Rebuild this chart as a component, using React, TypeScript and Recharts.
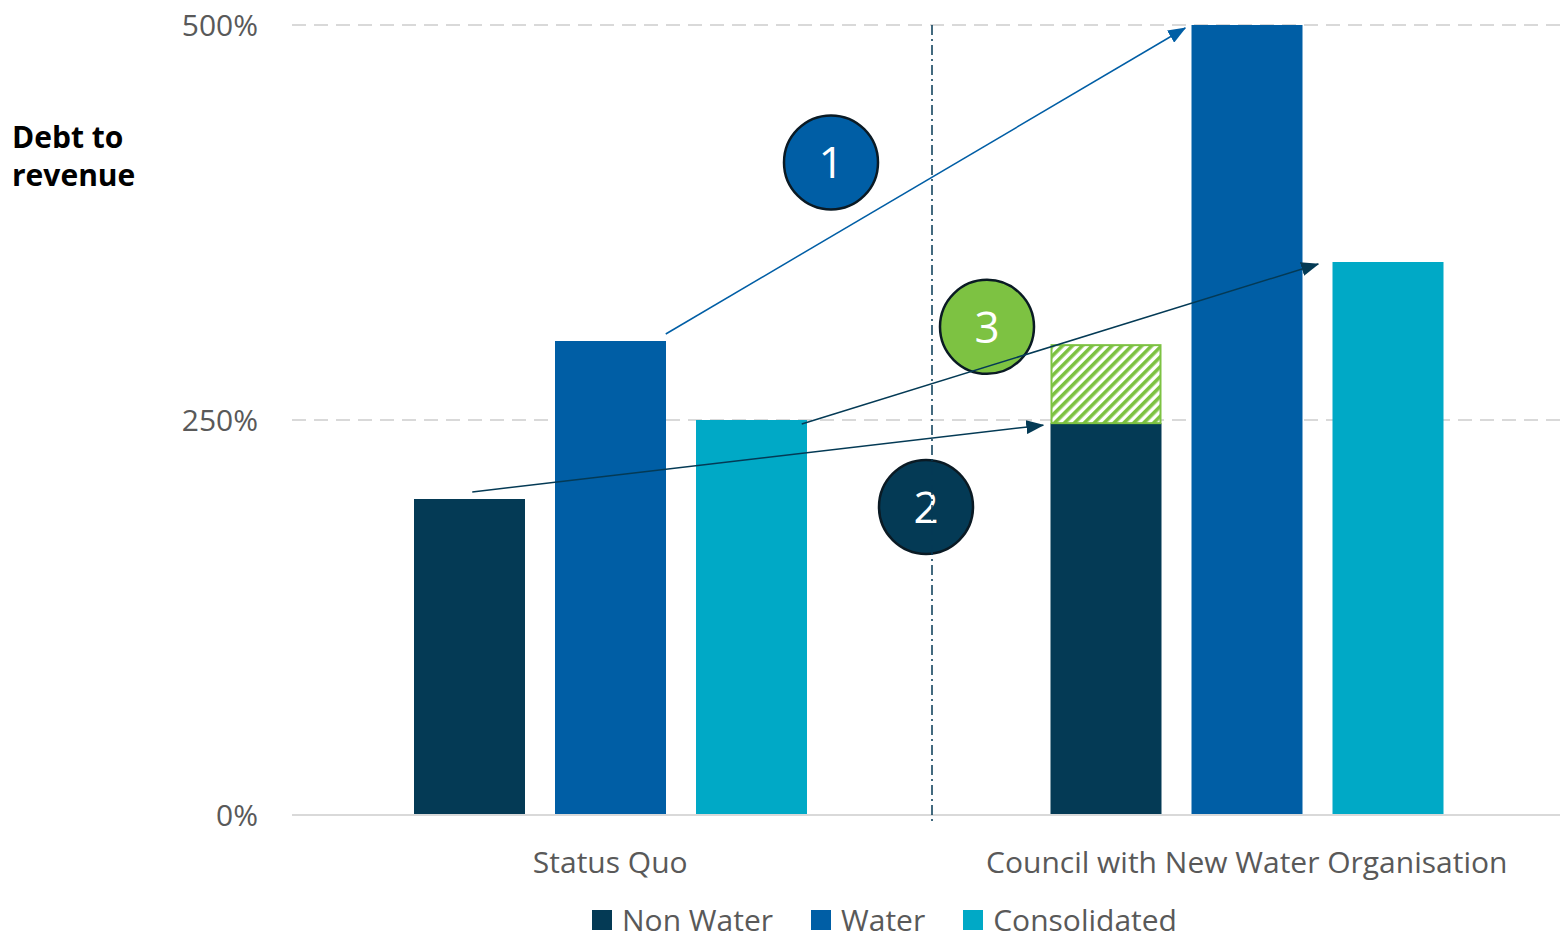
import React from "react";
import { BarChart, Bar, XAxis, YAxis, CartesianGrid, Legend } from "recharts";

document.body.style.margin = "0";

const categories = ["Status Quo", "Council with New Water Organisation"];
const seriesOrder = ["Non Water", "Water", "Consolidated"];
const nonWater = [200, 248];
const reformAddition = [0, 50];
const water = [300, 500];
const consolidated = [250, 350];
const yTicks = [0, 250, 500];

const data = categories.map((name, i) => ({
  name,
  nonWater: nonWater[i],
  addition: reformAddition[i],
  water: water[i],
  consolidated: consolidated[i],
}));

const W = 1560;
const H = 942;
const FONT = "'Open Sans', 'Noto Sans', sans-serif";
const C_NAVY = "#043A55";
const C_BLUE = "#005EA5";
const C_TEAL = "#00A9C6";
const C_GREEN = "#7DC242";
const GRID = "#d9d9d9";
const TEXT = "#595959";

// layout (must agree with the chart below)
const M = { top: 25, right: -5, left: 0, bottom: 0 };
const Y_W = 292;
const X_H = 77;
const LEG_H = 50;
const BAR = 111;
const GAP = 30;
const plotLeft = M.left + Y_W;
const plotRight = W - M.right;
const plotTop = M.top;
const plotBottom = H - M.bottom - X_H - LEG_H;
const yMax = yTicks[yTicks.length - 1];
const yPx = (v: number) => plotBottom - (v / yMax) * (plotBottom - plotTop);
const band = (plotRight - plotLeft) / categories.length;
const catX = (i: number) => plotLeft + band * (i + 0.5);
const barX = (i: number, j: number) => catX(i) + (j - 1) * (BAR + GAP);

// annotation arrows, anchored to bar tops
const arrows = [
  { x1: barX(0, 1) + BAR / 2, y1: yPx(water[0]) - 7, x2: barX(1, 1) - BAR / 2 - 6, y2: yPx(water[1]) + 3, color: C_BLUE },
  { x1: barX(0, 0) + 3, y1: yPx(nonWater[0]) - 7, x2: barX(1, 0) - BAR / 2 - 7, y2: yPx(nonWater[1]) + 2, color: C_NAVY },
  { x1: barX(0, 2) + BAR / 2 - 5, y1: yPx(consolidated[0]) + 4, x2: barX(1, 2) - BAR / 2 - 14, y2: yPx(consolidated[1]) + 2, color: C_NAVY },
];

const divX = plotLeft + band + 3.5;
const badges = [
  { label: "1", x: divX - 101, v: 413, fill: C_BLUE },
  { label: "3", x: divX + 55, v: 309, fill: C_GREEN },
  { label: "2", x: divX - 6, v: 195, fill: C_NAVY },
];

function HatchBar(props: any) {
  const { x, y, width, height } = props;
  if (!height || height <= 0) return null;
  return (
    <rect x={x + 1} y={y + 1} width={width - 2} height={height - 1} fill="url(#hatch)" stroke={C_GREEN} strokeWidth={2} />
  );
}

function LegendContent(props: any) {
  const items = (props.payload || [])
    .filter((p: any) => seriesOrder.includes(p.value))
    .sort((a: any, b: any) => seriesOrder.indexOf(a.value) - seriesOrder.indexOf(b.value));
  return (
    <div style={{ height: LEG_H, display: "flex", justifyContent: "center", alignItems: "flex-start", paddingTop: 15, paddingLeft: 204, boxSizing: "border-box" }}>
      {items.map((p: any) => (
        <div key={p.value} style={{ display: "flex", alignItems: "center", margin: "0 19px", fontFamily: FONT, fontSize: 30, color: TEXT, lineHeight: "26px" }}>
          <span style={{ width: 20, height: 20, background: p.color, display: "inline-block", marginRight: 10 }} />
          {p.value}
        </div>
      ))}
    </div>
  );
}

export default function App() {
  return (
    <div style={{ position: "relative", width: W, height: H, background: "#fff", overflow: "hidden" }}>
      <BarChart width={W} height={H} data={data} margin={M} barSize={BAR} barGap={GAP}>
        <CartesianGrid vertical={false} stroke={GRID} strokeWidth={2} strokeDasharray="14 8" />
        <XAxis
          dataKey="name"
          height={X_H}
          axisLine={{ stroke: GRID, strokeWidth: 2 }}
          tickLine={false}
          tickMargin={31}
          tick={{ fill: TEXT, fontSize: 30, fontFamily: FONT }}
        />
        <YAxis
          width={Y_W}
          domain={[0, yMax]}
          ticks={yTicks}
          axisLine={false}
          tickLine={false}
          tickMargin={28}
          tickFormatter={(v) => `${v}%`}
          tick={{ fill: TEXT, fontSize: 30, fontFamily: FONT }}
        />
        <Legend verticalAlign="bottom" height={LEG_H} content={<LegendContent />} />
        <Bar dataKey="nonWater" name="Non Water" stackId="nw" fill={C_NAVY} isAnimationActive={false} />
        <Bar dataKey="addition" name="Addition" stackId="nw" fill={C_GREEN} legendType="none" shape={<HatchBar />} isAnimationActive={false} />
        <Bar dataKey="water" name="Water" fill={C_BLUE} isAnimationActive={false} />
        <Bar dataKey="consolidated" name="Consolidated" fill={C_TEAL} isAnimationActive={false} />
      </BarChart>
      <svg width={W} height={H} style={{ position: "absolute", left: 0, top: 0, pointerEvents: "none" }}>
        <defs>
          <pattern id="hatch" patternUnits="userSpaceOnUse" width="7" height="7" patternTransform="rotate(45)">
            <rect width="7" height="7" fill="#fff" />
            <rect width="3.6" height="7" fill={C_GREEN} />
          </pattern>
          <marker id="ah-blue" markerWidth="18" markerHeight="14" refX="17" refY="7" orient="auto" markerUnits="userSpaceOnUse">
            <path d="M0,0 L18,7 L0,14 Z" fill={C_BLUE} />
          </marker>
          <marker id="ah-navy" markerWidth="18" markerHeight="14" refX="17" refY="7" orient="auto" markerUnits="userSpaceOnUse">
            <path d="M0,0 L18,7 L0,14 Z" fill={C_NAVY} />
          </marker>
        </defs>
        <text x={12} y={148} fontFamily={FONT} fontWeight={700} fontSize={30} fill="#000">Debt to</text>
        <text x={12} y={186} fontFamily={FONT} fontWeight={700} fontSize={30} fill="#000">revenue</text>
        {badges.map((b) => (
          <g key={b.label}>
            <circle cx={b.x} cy={yPx(b.v)} r={47} fill={b.fill} stroke="#0a1a24" strokeWidth={2.5} />
            <text x={b.x} y={yPx(b.v)} dy={16} textAnchor="middle" fontFamily={FONT} fontSize={44} fill="#fff">{b.label}</text>
          </g>
        ))}
        <line x1={divX} x2={divX} y1={plotTop} y2={plotBottom + 10} stroke={C_NAVY} strokeWidth={1.5} strokeDasharray="10 4 2 4" />
        {arrows.map((a, i) => (
          <line key={i} x1={a.x1} y1={a.y1} x2={a.x2} y2={a.y2} stroke={a.color} strokeWidth={1.5}
            markerEnd={`url(#${a.color === C_BLUE ? "ah-blue" : "ah-navy"})`} />
        ))}
      </svg>
    </div>
  );
}
